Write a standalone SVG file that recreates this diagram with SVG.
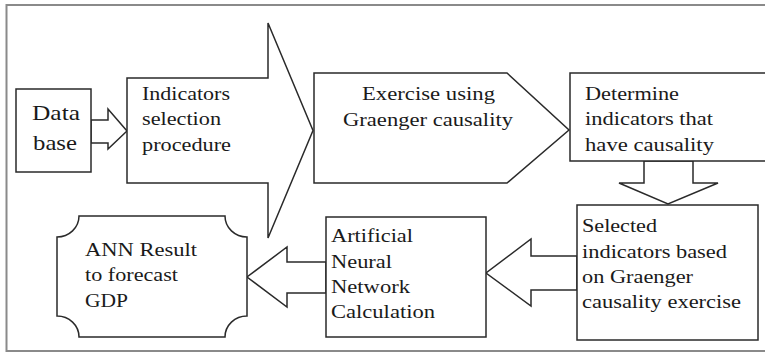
<svg xmlns="http://www.w3.org/2000/svg" width="765" height="354" viewBox="0 0 765 354">
<style>
.s{fill:#fff;stroke:#2a2a2a;stroke-width:1.5;stroke-linejoin:miter}
text{font-family:'Liberation Serif','DejaVu Serif','Times New Roman',serif;font-size:19.5px;fill:#1a1a1a}
.big{font-size:21px}
</style>
<rect x="0" y="0" width="765" height="354" fill="#fff"/>
<path d="M765,5 H6.5 V351 H765" fill="none" stroke="#8a8a8a" stroke-width="2"/>
<g id="connectors">
<path class="s" d="M91,120 H108 V109 L127,131 L108,149 V143 H91 Z"/>
<path class="s" d="M644,161 V183 H619 L668,204 L718,183 H693 V161 Z"/>
<path class="s" d="M577,256 H531 V239 L486,273 L531,306 V290 H577 Z"/>
<path class="s" d="M326,262 H287 V247 L247,277 L287,307 V293 H326 Z"/>
</g>
<g font-family="Liberation Serif, DejaVu Serif, serif" lengthAdjust="spacingAndGlyphs">
<g id="database">
<rect class="s" x="16" y="89" width="75" height="83"/>
<text class="big" x="32" y="120" textLength="48" lengthAdjust="spacingAndGlyphs">Data</text>
<text class="big" x="33" y="150" textLength="44" lengthAdjust="spacingAndGlyphs">base</text>
</g>
<g id="indicators">
<path class="s" d="M127,78 H268 V23 L313,130.5 L268,238 V183 H127 Z"/>
<text x="142" y="100" textLength="88" lengthAdjust="spacingAndGlyphs">Indicators</text>
<text x="142" y="125" textLength="79" lengthAdjust="spacingAndGlyphs">selection</text>
<text x="142" y="151" textLength="89" lengthAdjust="spacingAndGlyphs">procedure</text>
</g>
<g id="exercise">
<path class="s" d="M314,73 H507 L569,130 L507,183 H314 Z"/>
<text x="362" y="100" textLength="133" lengthAdjust="spacingAndGlyphs">Exercise using</text>
<text x="343" y="126" textLength="170" lengthAdjust="spacingAndGlyphs">Graenger causality</text>
</g>
<g id="determine">
<path class="s" d="M767,73 H570 V161 H767"/>
<text x="585" y="100" textLength="94" lengthAdjust="spacingAndGlyphs">Determine</text>
<text x="585" y="125" textLength="128" lengthAdjust="spacingAndGlyphs">indicators that</text>
<text x="585" y="151" textLength="129" lengthAdjust="spacingAndGlyphs">have causality</text>
</g>
<g id="selected">
<rect class="s" x="577" y="205" width="181" height="135"/>
<text x="582" y="232" textLength="75" lengthAdjust="spacingAndGlyphs">Selected</text>
<text x="582" y="258" textLength="145" lengthAdjust="spacingAndGlyphs">indicators based</text>
<text x="582" y="283" textLength="111" lengthAdjust="spacingAndGlyphs">on Graenger</text>
<text x="582" y="308" textLength="159" lengthAdjust="spacingAndGlyphs">causality exercise</text>
</g>
<g id="ann-calc">
<rect class="s" x="326" y="217" width="160" height="120"/>
<text x="331" y="242" textLength="82" lengthAdjust="spacingAndGlyphs">Artificial</text>
<text x="331" y="268" textLength="61" lengthAdjust="spacingAndGlyphs">Neural</text>
<text x="331" y="293" textLength="79" lengthAdjust="spacingAndGlyphs">Network</text>
<text x="331" y="318" textLength="104" lengthAdjust="spacingAndGlyphs">Calculation</text>
</g>
<g id="ann-result">
<path class="s" d="M79,216 H225 A22,21 0 0 0 247,237 V316 A22,21 0 0 0 225,337 H79 A22,21 0 0 0 57,316 V237 A22,21 0 0 0 79,216 Z"/>
<text x="85" y="256" textLength="112" lengthAdjust="spacingAndGlyphs">ANN Result</text>
<text x="85" y="281" textLength="93" lengthAdjust="spacingAndGlyphs">to forecast</text>
<text x="85" y="307" textLength="43" lengthAdjust="spacingAndGlyphs">GDP</text>
</g>
</g>
</svg>
